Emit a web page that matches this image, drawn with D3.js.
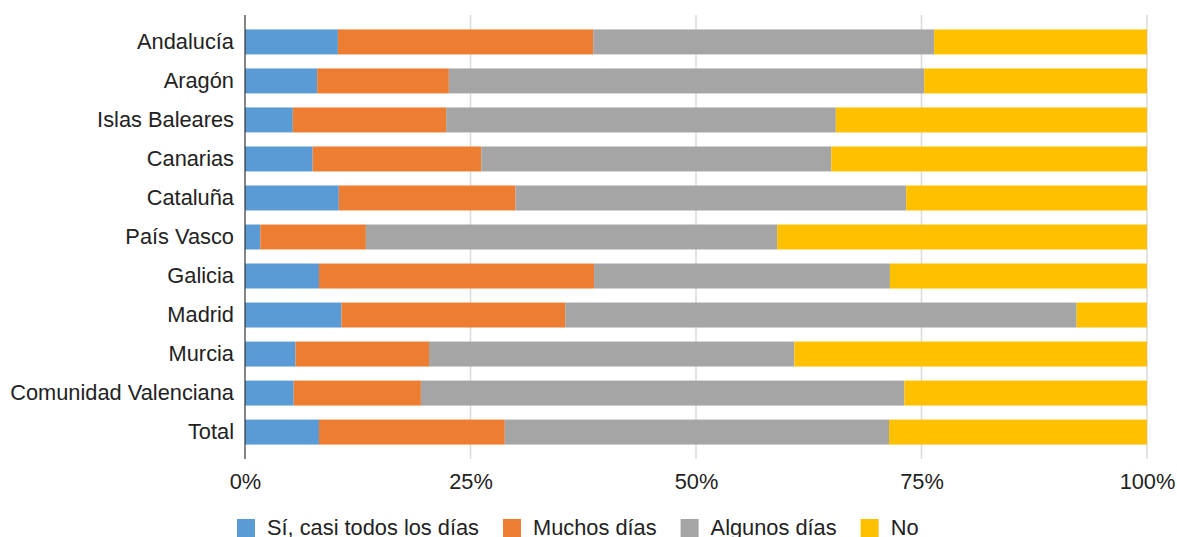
<!DOCTYPE html>
<html>
<head>
<meta charset="utf-8">
<script src="https://cdn.jsdelivr.net/npm/d3@7"></script>
<style>
  body { margin: 0; background: #fff; }
  text { font-family: "Liberation Sans", Arial, sans-serif; fill: #222; }
</style>
</head>
<body>
<script>
const regions = ["Andalucía", "Aragón", "Islas Baleares", "Canarias", "Cataluña", "País Vasco",
  "Galicia", "Madrid", "Murcia", "Comunidad Valenciana", "Total"];

const seriesNames = ["Sí, casi todos los días", "Muchos días", "Algunos días", "No"];

// share of each answer per region, in %
const casiTodos = [10.3, 8.0, 5.3, 7.5, 10.4, 1.7, 8.2, 10.7, 5.6, 5.4, 8.2];
const muchos    = [28.3, 14.6, 17.0, 18.7, 19.6, 11.7, 30.5, 24.8, 14.8, 14.1, 20.6];
const algunos   = [37.8, 52.7, 43.2, 38.8, 43.3, 45.6, 32.8, 56.7, 40.5, 53.6, 42.6];
const no        = [23.6, 24.7, 34.5, 35.0, 26.7, 41.0, 28.5, 7.8, 39.1, 26.9, 28.6];

const tickValues = [0, 0.25, 0.5, 0.75, 1];

const colors = ["#5b9bd5", "#ed7d31", "#a5a5a5", "#ffc000"];

const width = 1177, height = 537;
const margin = {left: 245, right: 30, top: 15, bottom: 78};
const fontSize = '21.8px';

const rows = regions.map((r, i) => ({
  region: r,
  [seriesNames[0]]: casiTodos[i],
  [seriesNames[1]]: muchos[i],
  [seriesNames[2]]: algunos[i],
  [seriesNames[3]]: no[i]
}));

const stacked = d3.stack().keys(seriesNames).offset(d3.stackOffsetExpand)(rows);

const svg = d3.select('body').append('svg')
  .attr('width', width).attr('height', height);

const x = d3.scaleLinear().domain([0, 1]).range([margin.left, width - margin.right]);
const y = d3.scaleBand().domain(regions)
  .range([margin.top, height - margin.bottom])
  .paddingInner(0.36).paddingOuter(0.37);

const color = d3.scaleOrdinal().domain(seriesNames).range(colors);

// gridlines
svg.append('g')
  .selectAll('line')
  .data(tickValues.slice(1))
  .enter().append('line')
  .attr('x1', d => x(d)).attr('x2', d => x(d))
  .attr('y1', margin.top).attr('y2', height - margin.bottom)
  .attr('stroke', '#dadada').attr('stroke-width', 1.5);

// bars
svg.append('g')
  .selectAll('g')
  .data(stacked)
  .enter().append('g')
  .attr('fill', d => color(d.key))
  .selectAll('rect')
  .data(d => d)
  .enter().append('rect')
  .attr('x', d => x(d[0]))
  .attr('y', d => y(d.data.region))
  .attr('width', d => x(d[1]) - x(d[0]))
  .attr('height', y.bandwidth());

// y axis
const yAxis = d3.axisLeft(y).tickSize(0).tickPadding(11);
const gy = svg.append('g')
  .attr('transform', `translate(${margin.left},0)`)
  .call(yAxis);
gy.select('.domain').remove();
gy.selectAll('text').attr('font-size', fontSize).attr('fill', '#222')
  .style('font-family', '"Liberation Sans", Arial, sans-serif');
svg.append('line')
  .attr('x1', margin.left).attr('x2', margin.left)
  .attr('y1', margin.top).attr('y2', height - margin.bottom)
  .attr('stroke', '#333').attr('stroke-width', 1.2);

// x axis
const xAxis = d3.axisBottom(x).tickValues(tickValues).tickSize(0).tickPadding(15)
  .tickFormat(d3.format('.0%'));
const gx = svg.append('g')
  .attr('transform', `translate(0,${height - margin.bottom})`)
  .call(xAxis);
gx.select('.domain').remove();
gx.selectAll('text').attr('font-size', fontSize).attr('fill', '#222')
  .style('font-family', '"Liberation Sans", Arial, sans-serif');

// legend
const legend = svg.append('g').attr('transform', `translate(237,519)`);
let lx = 0;
seriesNames.forEach((name, i) => {
  const item = legend.append('g').attr('transform', `translate(${lx},0)`);
  item.append('rect')
    .attr('width', 18).attr('height', 18)
    .attr('fill', color(name));
  const t = item.append('text')
    .attr('x', 30).attr('y', 8)
    .attr('dy', '0.35em')
    .attr('font-size', fontSize)
    .text(name);
  lx += 30 + t.node().getComputedTextLength() + 24;
});
</script>
</body>
</html>
